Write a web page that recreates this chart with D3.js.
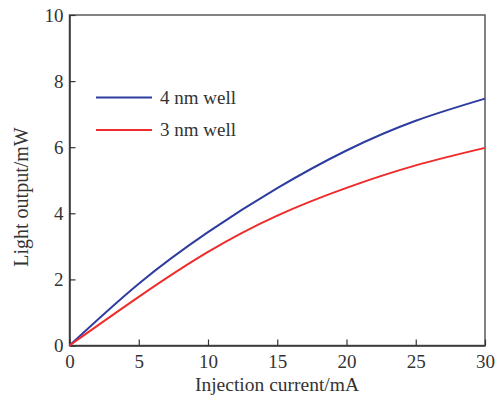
<!DOCTYPE html>
<html>
<head>
<meta charset="utf-8">
<script src="https://cdn.jsdelivr.net/npm/d3@7.9.0/dist/d3.min.js"></script>
<style>
  body { margin: 0; background: #fff; }
  svg text { font-family: "Liberation Serif", "DejaVu Serif", serif; fill: #333; }
</style>
</head>
<body>
<svg width="497" height="403"></svg>
<script>
// chart data
const current = [0, 5, 10, 15, 20, 25, 30];
const well4nm = [0, 1.87, 3.43, 4.76, 5.9, 6.8, 7.47];
const well3nm = [0, 1.47, 2.83, 3.93, 4.77, 5.45, 5.98];
const xTicks = [0, 5, 10, 15, 20, 25, 30];
const yTicks = [0, 2, 4, 6, 8, 10];
const seriesNames = ['4 nm well', '3 nm well'];
const seriesColors = ['#2e3c9f', '#ef2b2b'];

const serif = '"Liberation Serif", "DejaVu Serif", serif';
const svg = d3.select('svg');
const plotLeft = 69.5, plotRight = 485, plotTop = 15, plotBottom = 345.5;

const x = d3.scaleLinear().domain([0, 30]).range([plotLeft, plotRight]);
const y = d3.scaleLinear().domain([0, 10]).range([plotBottom, plotTop]);

// frame
svg.append('rect')
  .attr('x', plotLeft).attr('y', plotTop)
  .attr('width', plotRight - plotLeft).attr('height', plotBottom - plotTop)
  .attr('fill', 'none').attr('stroke', '#5a5a5a').attr('stroke-width', 1.5);

// x axis (ticks pointing inward)
const xAxis = svg.append('g')
  .attr('transform', `translate(0,${plotBottom})`)
  .attr('font-family', serif)
  .call(d3.axisBottom(x).tickValues(xTicks).tickSizeInner(-6).tickSizeOuter(0).tickPadding(9));
xAxis.select('.domain').attr('stroke', '#333').attr('stroke-width', 1.5);
xAxis.selectAll('.tick line').attr('stroke', '#333').attr('stroke-width', 1.2);
xAxis.selectAll('.tick text').style('font-size', '19px').style('font-family', serif).attr('fill', '#333');

// y axis
const yAxis = svg.append('g')
  .attr('transform', `translate(${plotLeft},0)`)
  .attr('font-family', serif)
  .call(d3.axisLeft(y).tickValues(yTicks).tickSizeInner(-6).tickSizeOuter(0).tickPadding(6));
yAxis.select('.domain').attr('stroke', '#333').attr('stroke-width', 1.5);
yAxis.selectAll('.tick line').attr('stroke', '#333').attr('stroke-width', 1.2);
yAxis.selectAll('.tick text').style('font-size', '19px').style('font-family', serif).attr('fill', '#333');

// axis titles
svg.append('text')
  .attr('x', 277).attr('y', 391)
  .attr('text-anchor', 'middle')
  .style('font-size', '19.5px')
  .text('Injection current/mA');

svg.append('text')
  .attr('transform', 'translate(28,197) rotate(-90)')
  .attr('text-anchor', 'middle')
  .style('font-size', '20px')
  .text('Light output/mW');

// curves
const line = d3.line()
  .x((d) => x(d[0]))
  .y((d) => y(d[1]))
  .curve(d3.curveNatural);

[well4nm, well3nm].forEach((vals, i) => {
  svg.append('path')
    .datum(current.map((c, j) => [c, vals[j]]))
    .attr('d', line)
    .attr('fill', 'none')
    .attr('stroke', seriesColors[i])
    .attr('stroke-width', 2);
});

// legend
seriesNames.forEach((name, i) => {
  const ly = 97.5 + i * 32.5;
  svg.append('line')
    .attr('x1', 96).attr('x2', 152)
    .attr('y1', ly).attr('y2', ly)
    .attr('stroke', seriesColors[i]).attr('stroke-width', 2);
  svg.append('text')
    .attr('x', 160).attr('y', ly + 6)
    .style('font-size', '19px')
    .text(name);
});
</script>
</body>
</html>
